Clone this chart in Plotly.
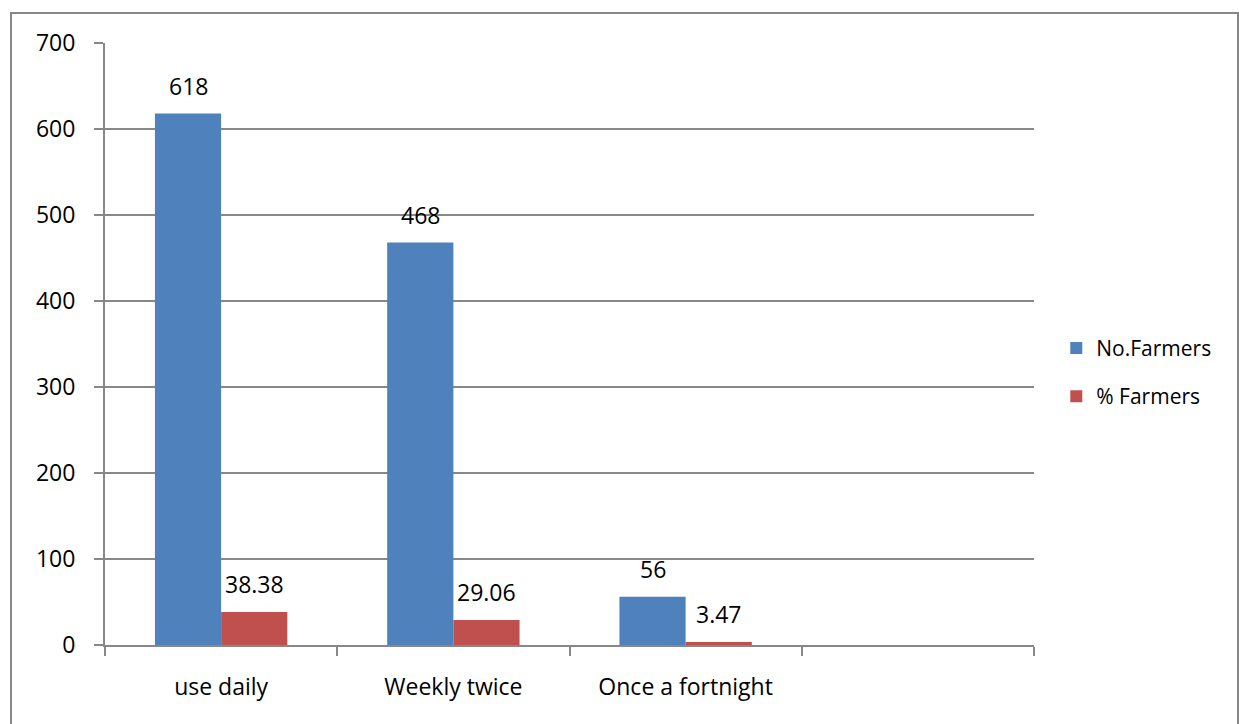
import plotly.graph_objects as go

categories = ["use daily", "Weekly twice", "Once a fortnight"]
no_farmers = [618, 468, 56]
pct_farmers = [38.38, 29.06, 3.47]
series_names = ["No.Farmers", "% Farmers"]
colors = ["#4F81BD", "#C0504D"]

FONT = "Open Sans"
FS = 23
AX = "#888888"

x = list(range(len(categories)))
fig = go.Figure()
for i, (name, vals) in enumerate(zip(series_names, [no_farmers, pct_farmers])):
    fig.add_trace(go.Bar(
        x=x, y=vals, name=name, marker=dict(color=colors[i], line=dict(width=0)),
        legendgroup=name,
    ))

# value labels above bars
bargap = 0.43
bw = (1 - bargap) / 2
for i, vals in enumerate([no_farmers, pct_farmers]):
    off = (i - 0.5) * bw
    for xi, v in zip(x, vals):
        fig.add_annotation(x=xi + off, y=v, text=f"{v:g}", showarrow=False,
                           yanchor="bottom", yshift=10,
                           font=dict(family=FONT, size=FS, color="black"))

# outer chart-area border
fig.add_shape(type="rect", xref="paper", yref="paper",
              x0=-0.1012, x1=1.2196, y0=-0.2, y1=1.0498,
              line=dict(color=AX, width=2), layer="below")

fig.update_layout(
    width=1239, height=724,
    margin=dict(l=105, r=205, t=43, b=79),
    paper_bgcolor="white", plot_bgcolor="white",
    barmode="group", bargap=bargap, bargroupgap=0,
    font=dict(family=FONT, size=FS, color="black"),
    legend=dict(x=1.024, y=0.453, xanchor="left", yanchor="middle",
                font=dict(family=FONT, size=21), tracegroupgap=18,
                itemwidth=30, borderwidth=0),
    showlegend=True,
)
fig.update_xaxes(
    range=[-0.5, 3.5], tickvals=x, ticktext=categories, ticks="",
    showline=True, linecolor=AX, linewidth=2, showgrid=False, zeroline=False,
    ticklabelstandoff=20,
    minor=dict(tickvals=[-0.5, 0.5, 1.5, 2.5, 3.5], ticks="outside",
               ticklen=9, tickcolor=AX, tickwidth=2, showgrid=False),
)
fig.update_yaxes(
    range=[0, 700], dtick=100, ticks="outside", ticklen=9, tickcolor=AX, tickwidth=2,
    showline=True, linecolor=AX, linewidth=2, showgrid=True, gridcolor=AX, gridwidth=1.5,
    zeroline=False, ticklabelstandoff=14,
)

fig.write_html("out.html")
